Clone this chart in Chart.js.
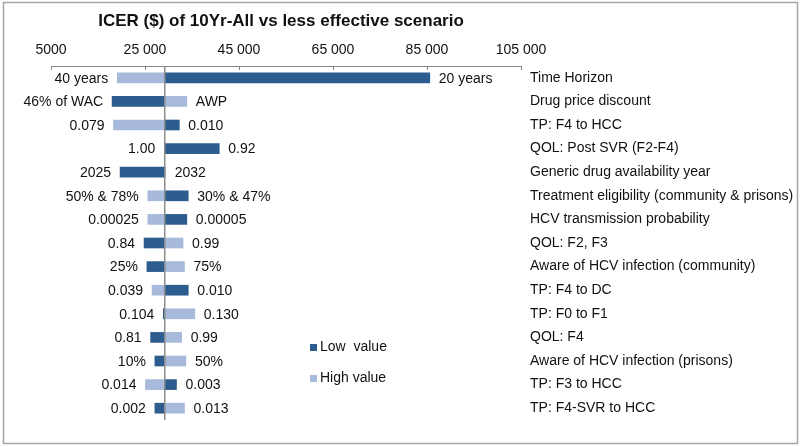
<!DOCTYPE html>
<html>
<head>
<meta charset="utf-8">
<script src="https://cdn.jsdelivr.net/npm/chart.js@4.4.0/dist/chart.umd.min.js"></script>
<style>
  body { margin: 0; background: #fff; }
  #wrap { width: 800px; height: 447px; position: relative; }
</style>
</head>
<body>
<div id="wrap"><canvas id="icerChart"></canvas></div>
<script>
let chartTitle = 'ICER ($) of 10Yr-All vs less effective scenario';
let categories = ['Time Horizon', 'Drug price discount', 'TP: F4 to HCC', 'QOL: Post SVR (F2-F4)',
    'Generic drug availability year', 'Treatment eligibility (community & prisons)', 'HCV transmission probability',
    'QOL: F2, F3', 'Aware of HCV infection (community)', 'TP: F4 to DC', 'TP: F0 to F1', 'QOL: F4',
    'Aware of HCV infection (prisons)', 'TP: F3 to HCC', 'TP: F4-SVR to HCC'];
let baseline = 29200;
let lowValues = [85600, 18000, 32300, 40800, 19700, 34200, 33900, 24800, 25400, 34200, 28900, 26200, 27100, 31700, 27100];
let highValues = [19100, 33900, 18300, 29100, 29400, 25600, 25600, 33100, 33400, 26500, 35600, 32800, 33700, 25100, 33400];
let lowLabels = ['20 years', '46% of WAC', '0.010', '0.92', '2025', '30% & 47%', '0.00005', '0.84', '25%', '0.010', '0.104', '0.81', '10%', '0.003', '0.002'];
let highLabels = ['40 years', 'AWP', '0.079', '1.00', '2032', '50% & 78%', '0.00025', '0.99', '75%', '0.039', '0.130', '0.99', '50%', '0.014', '0.013'];
let tickLabels = ['5000', '25 000', '45 000', '65 000', '85 000', '105 000'];

const darkBlue = '#2d5c8e';
const lightBlue = '#a7badb';
const fontFamily = '"Liberation Sans", Arial, sans-serif';
const textColor = '#111';

// frame, title, tick marks, baseline, value labels, legend
const extras = {
    id: 'extras',
    beforeDraw(chart) {
        const ctx = chart.ctx;
        ctx.save();
        ctx.fillStyle = '#fff';
        ctx.fillRect(0, 0, chart.width, chart.height);
        ctx.strokeStyle = '#a6a6a6';
        ctx.lineWidth = 1.5;
        ctx.strokeRect(3.5, 2.5, 794, 441);
        ctx.restore();
    },
    afterDatasetsDraw(chart) {
        const ctx = chart.ctx;
        const xs = chart.scales.x;
        const ys = chart.scales.y;
        const area = chart.chartArea;
        ctx.save();

        // tick marks pointing down from the axis line
        ctx.strokeStyle = '#868686';
        ctx.lineWidth = 1;
        xs.ticks.forEach(t => {
            const px = Math.round(xs.getPixelForValue(t.value)) + 0.5;
            ctx.beginPath();
            ctx.moveTo(px, area.top);
            ctx.lineTo(px, area.top + 4);
            ctx.stroke();
        });

        // baseline
        const bx = xs.getPixelForValue(baseline);
        ctx.strokeStyle = '#8c8c8c';
        ctx.lineWidth = 1.5;
        ctx.beginPath();
        ctx.moveTo(bx, area.top);
        ctx.lineTo(bx, area.bottom);
        ctx.stroke();

        // value labels
        ctx.fillStyle = textColor;
        ctx.font = '14px ' + fontFamily;
        ctx.textBaseline = 'middle';
        [[lowValues, lowLabels], [highValues, highLabels]].forEach(([vals, labs]) => {
            vals.forEach((v, i) => {
                const y = ys.getPixelForValue(i) + 1;
                const px = xs.getPixelForValue(v);
                if (v <= baseline) {
                    ctx.textAlign = 'right';
                    ctx.fillText(labs[i], px - 9, y);
                } else {
                    ctx.textAlign = 'left';
                    ctx.fillText(labs[i], px + 9, y);
                }
            });
        });
        ctx.restore();
    },
    afterDraw(chart) {
        const ctx = chart.ctx;
        ctx.save();
        ctx.fillStyle = textColor;
        ctx.font = 'bold 17px ' + fontFamily;
        ctx.textAlign = 'center';
        ctx.textBaseline = 'middle';
        ctx.fillText(chartTitle, 281, 21);

        // legend
        ctx.font = '14px ' + fontFamily;
        ctx.textAlign = 'left';
        chart.data.datasets.forEach((ds, i) => {
            const y = 347.5 + i * 31;
            ctx.fillStyle = ds.backgroundColor;
            ctx.fillRect(310, y - 3.5, 7, 7);
            ctx.fillStyle = textColor;
            ctx.fillText(ds.label, 320, y);
        });
        ctx.restore();
    }
};

const ctx = document.getElementById('icerChart').getContext('2d');
let icerChart = new Chart(ctx, {
    type: 'bar',
    data: {
        labels: categories,
        datasets: [{
            label: 'Low  value',
            data: lowValues.map(v => [baseline, v]),
            backgroundColor: darkBlue,
            barThickness: 10,
            grouped: false
        }, {
            label: 'High value',
            data: highValues.map(v => [baseline, v]),
            backgroundColor: lightBlue,
            barThickness: 10,
            grouped: false
        }]
    },
    options: {
        indexAxis: 'y',
        responsive: true,
        maintainAspectRatio: false,
        animation: false,
        layout: { padding: { left: 51, top: 30, bottom: 27, right: 0 } },
        plugins: {
            legend: { display: false },
            title: { display: false },
            tooltip: { enabled: false }
        },
        scales: {
            x: {
                position: 'top',
                min: 5000,
                max: 105000,
                ticks: {
                    stepSize: 20000,
                    autoSkip: false,
                    maxRotation: 0,
                    padding: -1,
                    color: textColor,
                    font: { family: fontFamily, size: 14 },
                    callback: (v, i) => tickLabels[i]
                },
                grid: { display: false },
                border: { display: true, color: '#868686', width: 1 },
                afterFit: s => { s.height = 36; }
            },
            y: {
                position: 'right',
                grid: { display: false, drawTicks: false },
                border: { display: false },
                ticks: {
                    padding: 9,
                    autoSkip: false,
                    color: textColor,
                    font: { family: fontFamily, size: 14 }
                },
                afterFit: s => { s.width = 279; }
            }
        }
    },
    plugins: [extras]
});
</script>
</body>
</html>
